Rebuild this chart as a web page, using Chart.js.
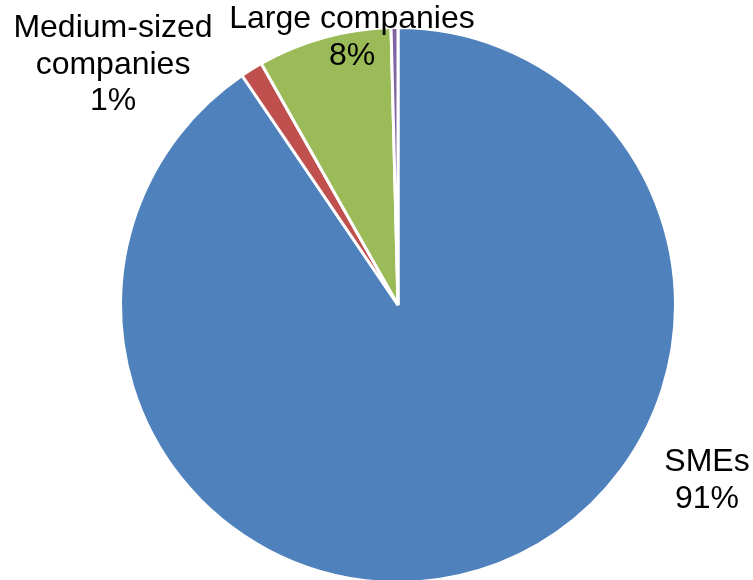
<!DOCTYPE html>
<html>
<head>
<meta charset="utf-8">
<script src="https://cdn.jsdelivr.net/npm/chart.js@4"></script>
<style>
  html, body { margin: 0; padding: 0; background: #fff; overflow: hidden; }
  #wrap { position: relative; width: 753px; height: 590px; }
</style>
</head>
<body>
<div id="wrap"><canvas id="pieChart"></canvas></div>
<script>
// company size shares (percent)
const categories = ['SMEs', 'Medium-sized companies', 'Large companies', 'Other'];
const shares = [90.5, 1.3, 7.8, 0.4];
const colorHex = ['#4F81BD', '#C0504D', '#9BBB59', '#8064A2'];

// label text lines per slice (null = no label)
const labelLines = [
  ['SMEs'],
  ['Medium-sized', 'companies'],
  ['Large companies'],
  null,
];
// label anchor, relative to pie centre, first baseline
const labelAnchor = [
  [309, 166],
  [-285, -268],
  [-46, -277],
  null,
];

const total = shares.reduce((a, b) => a + b, 0);

const pieLabels = {
  id: 'pieLabels',
  afterDatasetsDraw(chart) {
    const ctx = chart.ctx;
    const arcs = chart.getDatasetMeta(0).data;
    ctx.save();
    ctx.font = '32px "Liberation Sans", Arial, sans-serif';
    ctx.fillStyle = '#000';
    ctx.textAlign = 'center';
    ctx.textBaseline = 'alphabetic';
    arcs.forEach((arc, i) => {
      if (!labelLines[i]) return;
      const lines = labelLines[i].concat(Math.round(shares[i] / total * 100) + '%');
      const x = arc.x + labelAnchor[i][0];
      let y = arc.y + labelAnchor[i][1];
      lines.forEach((t) => {
        ctx.fillText(t, x, y);
        y += 36.5;
      });
    });
    ctx.restore();
  },
};

const ctx = document.getElementById('pieChart');
new Chart(ctx, {
  type: 'pie',
  data: {
    labels: categories,
    datasets: [
      {
        data: shares,
        backgroundColor: colorHex,
        borderColor: '#fff',
        borderWidth: 3,
      },
    ],
  },
  options: {
    responsive: true,
    maintainAspectRatio: false,
    animation: false,
    layout: { padding: { left: 119, right: 76, top: 26, bottom: 6 } },
    plugins: {
      legend: { display: false },
      tooltip: { enabled: false },
    },
  },
  plugins: [pieLabels],
});
</script>
</body>
</html>
